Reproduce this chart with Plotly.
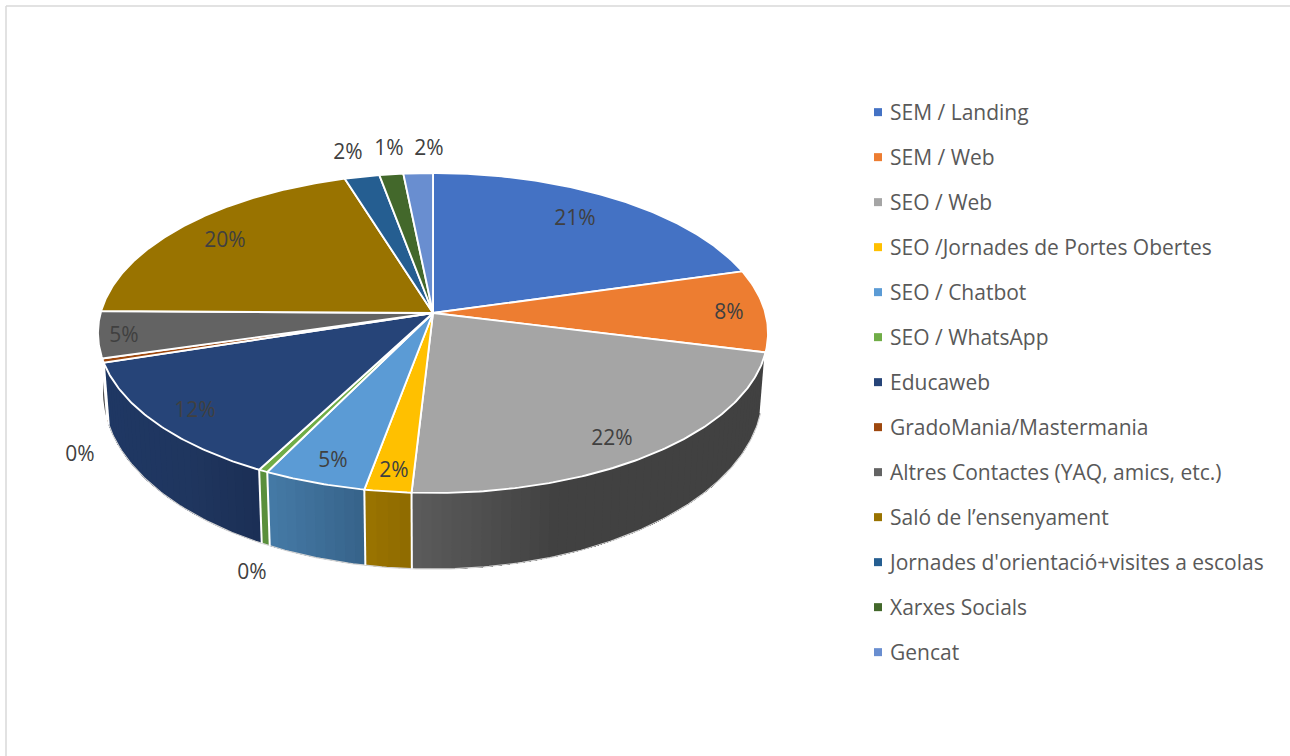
import numpy as np
import plotly.graph_objects as go

CATEGORIES = ["SEM / Landing", "SEM / Web", "SEO / Web", "SEO /Jornades de Portes Obertes",
              "SEO / Chatbot", "SEO / WhatsApp", "Educaweb", "GradoMania/Mastermania",
              "Altres Contactes (YAQ, amics, etc.)", "Saló de l’ensenyament",
              "Jornades d'orientació+visites a escolas", "Xarxes Socials", "Gencat"]
VALUES = [20.6, 8.3, 22.0, 2.0, 4.4, 0.4, 12.4, 0.4, 4.7, 20.0, 1.9, 1.3, 1.6]
PCT_LABELS = ["21%", "8%", "22%", "2%", "5%", "0%", "12%", "0%", "5%", "20%", "2%", "1%", "2%"]
COLORS = ["#4472c4", "#ed7d31", "#a5a5a5", "#ffc000", "#5b9bd5", "#70ad47", "#264478",
          "#9e480e", "#636363", "#997300", "#255e91", "#43682b", "#698ed0"]
# wall shading: (screen x, colour) stops per slice
WALL_STOPS = [
    [(0, "#2f4f85")],
    [(0, "#a5561f")],
    [(413, "#5c5c5c"), (560, "#414141")],
    [(365, "#9b7400"), (413, "#8e6b00")],
    [(270, "#457aa6"), (365, "#37638a")],
    [(0, "#5a8f3c")],
    [(107, "#1f3864"), (190, "#20365f"), (262, "#1b2f56")],
    [(0, "#6e320a")],
    [(0, "#484848")],
    [(0, "#6b5100")],
    [(0, "#1a4266")],
    [(0, "#2f491e")],
    [(0, "#4a6391")],
]
LABEL_XY = [(575, 220), (729, 314), (612, 440), (394, 472), (333, 462), (252, 574), (195, 412),
            (80, 456), (124, 337), (225, 242), (348, 154), (389, 150), (429, 150)]

# pie geometry (screen pixels) and perspective
CX, CY, A, B, K = 433, 313, 332.4, 157.5, 0.125
SX, SY, DY = 0.985, 1.108, 56.6


def rim(theta):
    X, Y = np.sin(theta), np.cos(theta)
    den = 1 + K * Y
    return A * X / den, B * Y / den


def top(theta):
    x, y = rim(theta)
    return CX + x, CY - y


def bottom(theta):
    x, y = rim(theta)
    return CX + SX * x, CY - (SY * y - DY)


def hex2rgb(h):
    return np.array([int(h[i:i + 2], 16) for i in (1, 3, 5)], float)


def shade(stops, x):
    xs = [s[0] for s in stops]
    cols = np.array([hex2rgb(s[1]) for s in stops])
    c = [np.interp(x, xs, cols[:, i]) for i in range(3)]
    return "rgb(%d,%d,%d)" % tuple(c)


fig = go.Figure()
edges = np.cumsum([0] + VALUES) / sum(VALUES) * 2 * np.pi
FRONT0, FRONT1 = edges[2], 3 * np.pi / 2

# side walls: each strip runs on to the slice's end and the next one paints over it,
# so no seams appear between the gradient steps
for i in range(len(VALUES)):
    a0, a1 = max(edges[i], FRONT0), min(edges[i + 1], FRONT1)
    if a1 <= a0:
        continue
    n = max(1, int((a1 - a0) / np.radians(1.5)))
    ts = np.linspace(a0, a1, n + 1)
    xt, yt = top(ts)
    xb, yb = bottom(ts)
    for j in range(n if len(WALL_STOPS[i]) > 1 else 1):
        c = shade(WALL_STOPS[i], (xt[j] + xt[j + 1]) / 2)
        fig.add_trace(go.Scatter(x=np.r_[xt[j:], xb[j:][::-1], xt[j]],
                                 y=np.r_[yt[j:], yb[j:][::-1], yt[j]],
                                 mode="lines", fill="toself", fillcolor=c,
                                 line=dict(width=0), hoverinfo="skip", showlegend=False))

# bottom outline
ts = np.linspace(np.radians(104), np.radians(253), 200)
xb, yb = bottom(ts)
fig.add_trace(go.Scatter(x=xb, y=yb, mode="lines", line=dict(color="#d4d4d4", width=1.2),
                         hoverinfo="skip", showlegend=False))

# top face
for i in range(len(VALUES)):
    ts = np.linspace(edges[i], edges[i + 1], max(3, int(VALUES[i] * 6)))
    xs, ys = top(ts)
    fig.add_trace(go.Scatter(x=np.r_[CX, xs, CX], y=np.r_[CY, ys, CY], mode="lines", fill="toself",
                             fillcolor=COLORS[i], line=dict(color="white", width=1.9),
                             name=CATEGORIES[i], legendgroup=CATEGORIES[i], hoverinfo="name+text",
                             text=PCT_LABELS[i], showlegend=False))

# white dividers on the walls, drawn as layout shapes above every trace
divider_shapes = []
for a in edges:
    if np.radians(100) < a < np.radians(256):
        xt, yt = top(a); xb, yb = bottom(a)
        divider_shapes.append(dict(type="line", xref="x", yref="y", x0=float(xt), y0=float(yt),
                                   x1=float(xb), y1=float(yb), layer="above",
                                   line=dict(color="white", width=2)))

# percentage labels
fig.add_trace(go.Scatter(x=[p[0] for p in LABEL_XY], y=[p[1] for p in LABEL_XY], mode="text",
                         text=PCT_LABELS, textposition="middle center",
                         textfont=dict(family="Open Sans", size=21, color="#404040"),
                         hoverinfo="skip", showlegend=False))

# legend entries
for i, name in enumerate(CATEGORIES):
    fig.add_trace(go.Scatter(x=[None], y=[None], mode="markers", name=name, legendgroup=name,
                             marker=dict(symbol="square", size=8, color=COLORS[i])))

fig.update_layout(
    width=1290, height=756, margin=dict(l=0, r=0, t=0, b=0),
    paper_bgcolor="white", plot_bgcolor="white",
    xaxis=dict(range=[0, 1290], visible=False, fixedrange=True),
    yaxis=dict(range=[756, 0], visible=False, fixedrange=True),
    legend=dict(x=850 / 1290, xanchor="left", y=1 - 92 / 756, yanchor="top", tracegroupgap=14.7,
                font=dict(family="Open Sans", size=21, color="#595959"),
                bgcolor="rgba(0,0,0,0)", itemclick=False, itemdoubleclick=False),
    shapes=[
        dict(type="line", xref="paper", yref="paper", x0=6 / 1290, x1=1, y0=1 - 6 / 756, y1=1 - 6 / 756,
             line=dict(color="#d9d9d9", width=1.5)),
        dict(type="line", xref="paper", yref="paper", x0=6 / 1290, x1=6 / 1290, y0=1 - 6 / 756, y1=0,
             line=dict(color="#d9d9d9", width=1.5)),
    ] + divider_shapes,
)
fig.write_html("out.html", config={"displayModeBar": False},
               post_script="document.body.style.margin='0';"
                           "document.querySelectorAll('.legend .legendpoints')"
                           ".forEach(function(g){g.setAttribute('transform','translate(8,0)');});")
